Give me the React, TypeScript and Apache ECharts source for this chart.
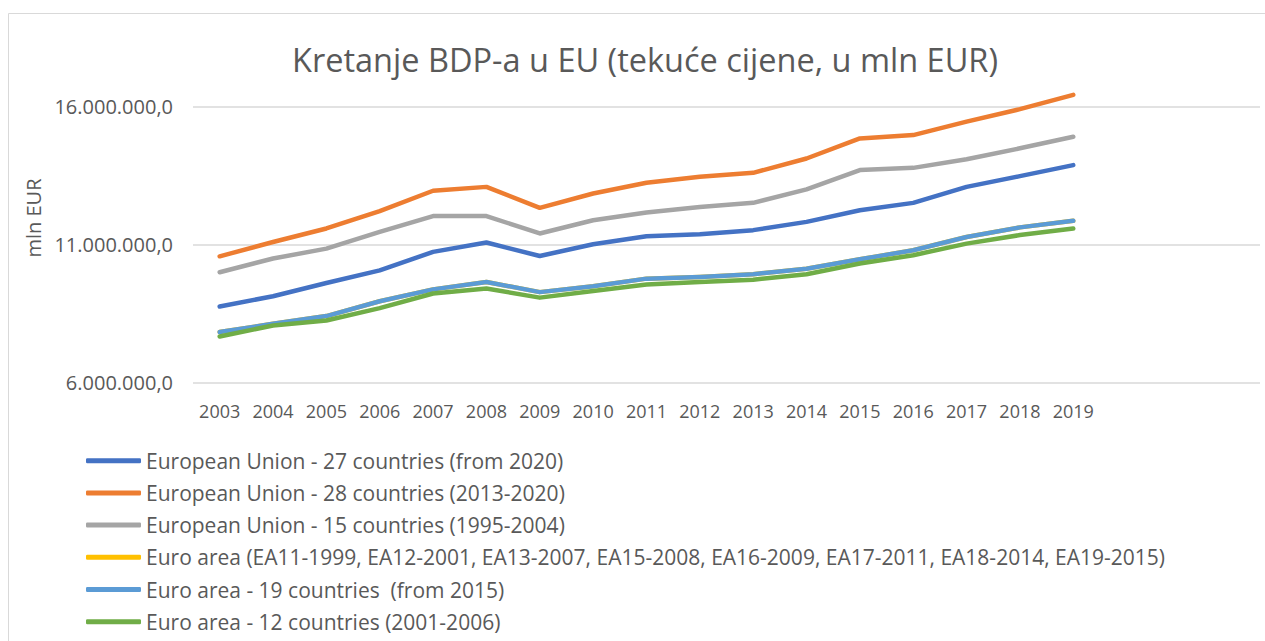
import React, { useEffect, useRef } from "react";
import * as echarts from "echarts";

const years = ["2003", "2004", "2005", "2006", "2007", "2008", "2009", "2010", "2011", "2012", "2013", "2014", "2015", "2016", "2017", "2018", "2019", "", "", ""];

const eu27 = [8.76, 9.13, 9.61, 10.07, 10.74, 11.08, 10.59, 11.02, 11.31, 11.38, 11.53, 11.83, 12.25, 12.52, 13.10, 13.49, 13.89];
const eu28 = [10.58, 11.10, 11.59, 12.22, 12.96, 13.10, 12.34, 12.86, 13.25, 13.47, 13.61, 14.13, 14.86, 14.98, 15.47, 15.92, 16.44];
const eu15 = [10.00, 10.50, 10.86, 11.47, 12.04, 12.04, 11.41, 11.89, 12.17, 12.37, 12.52, 13.01, 13.71, 13.79, 14.10, 14.50, 14.92];
const euroArea = [7.83, 8.13, 8.41, 8.95, 9.38, 9.65, 9.28, 9.49, 9.77, 9.83, 9.93, 10.13, 10.47, 10.80, 11.28, 11.63, 11.87];
const ea19 = [7.83, 8.13, 8.41, 8.95, 9.38, 9.65, 9.28, 9.49, 9.77, 9.83, 9.93, 10.13, 10.47, 10.80, 11.28, 11.63, 11.87];
const ea12 = [7.67, 8.07, 8.25, 8.70, 9.23, 9.41, 9.08, 9.32, 9.56, 9.65, 9.73, 9.93, 10.32, 10.62, 11.04, 11.35, 11.59];

const seriesNames = [
  "European Union - 27 countries (from 2020)",
  "European Union - 28 countries (2013-2020)",
  "European Union - 15 countries (1995-2004)",
  "Euro area (EA11-1999, EA12-2001, EA13-2007, EA15-2008, EA16-2009, EA17-2011, EA18-2014, EA19-2015)",
  "Euro area - 19 countries  (from 2015)",
  "Euro area - 12 countries (2001-2006)",
];
const seriesData = [eu27, eu28, eu15, euroArea, ea19, ea12];
const seriesColors = ["#4472C4", "#ED7D31", "#A5A5A5", "#FFC000", "#5B9BD5", "#70AD47"];

const yMin = 6000000;
const yMax = 16500000;
const yStep = 500000;
const yLabelStep = 5000000;

const FONT = "'Open Sans'";
const TEXT = "#595959";

function fmt(v: number): string {
  return Math.round(v).toString().replace(/\B(?=(\d{3})+(?!\d))/g, ".") + ",0";
}

export default function App() {
  const ref = useRef<HTMLDivElement>(null);
  useEffect(() => {
    document.body.style.margin = "0";
    document.body.style.overflow = "hidden";
    const chart = echarts.init(ref.current!, undefined, { renderer: "svg" });
    const gridColors: string[] = [];
    for (let i = 0; i < yLabelStep / yStep; i++) gridColors.push(i === 0 ? "#D9D9D9" : "rgba(0,0,0,0)");
    chart.setOption({
      animation: false,
      backgroundColor: "#ffffff",
      textStyle: { fontFamily: FONT, color: TEXT },
      graphic: [
        {
          type: "rect",
          shape: { x: 8.5, y: 13.5, width: 1400, height: 800 },
          style: { fill: "none", stroke: "#D9D9D9", lineWidth: 1 },
          silent: true,
          z: -10,
        },
        {
          type: "text",
          x: 645,
          y: 59,
          style: {
            text: "Kretanje BDP-a u EU (tekuće cijene, u mln EUR)",
            fontFamily: FONT,
            fontSize: 32.5,
            fill: TEXT,
            align: "center",
            verticalAlign: "middle",
          },
        },
        {
          type: "text",
          x: 33,
          y: 218,
          rotation: Math.PI / 2,
          style: {
            text: "mln EUR",
            fontFamily: FONT,
            fontSize: 20,
            fill: TEXT,
            align: "center",
            verticalAlign: "middle",
          },
        },
      ],
      grid: { left: 193, right: 5, top: 93.2, bottom: 258.5, containLabel: false },
      legend: {
        orient: "vertical",
        left: 86,
        top: 449.7,
        padding: 0,
        itemWidth: 55,
        itemHeight: 5,
        itemGap: 10.2,
        icon: "roundRect",
        data: seriesNames,
        textStyle: { fontFamily: FONT, fontSize: 21, color: TEXT, lineHeight: 22 },
        selectedMode: false,
      },
      xAxis: {
        type: "category",
        data: years,
        boundaryGap: true,
        axisLine: { show: false },
        axisTick: { show: false },
        axisLabel: { color: TEXT, fontFamily: FONT, fontSize: 18, margin: 19.5, interval: 0 },
        splitLine: { show: false },
      },
      yAxis: {
        type: "value",
        min: yMin,
        max: yMax,
        interval: yStep,
        axisLine: { show: false },
        axisTick: { show: false },
        axisLabel: {
          color: TEXT,
          fontFamily: FONT,
          fontSize: 20,
          margin: 20,
          formatter: (v: number) => ((v - yMin) % yLabelStep === 0 ? fmt(v) : ""),
        },
        splitLine: { show: true, lineStyle: { color: gridColors, width: 1.5 } },
      },
      series: seriesNames.map((name, i) => ({
        name,
        type: "line",
        data: seriesData[i].map((v) => v * 1000000),
        symbol: "none",
        color: seriesColors[i],
        lineStyle: { width: 4.5, color: seriesColors[i], cap: "round", join: "round" },
        emphasis: { disabled: true },
      })),
    });
    return () => chart.dispose();
  }, []);
  return <div ref={ref} style={{ width: 1265, height: 641 }} />;
}
